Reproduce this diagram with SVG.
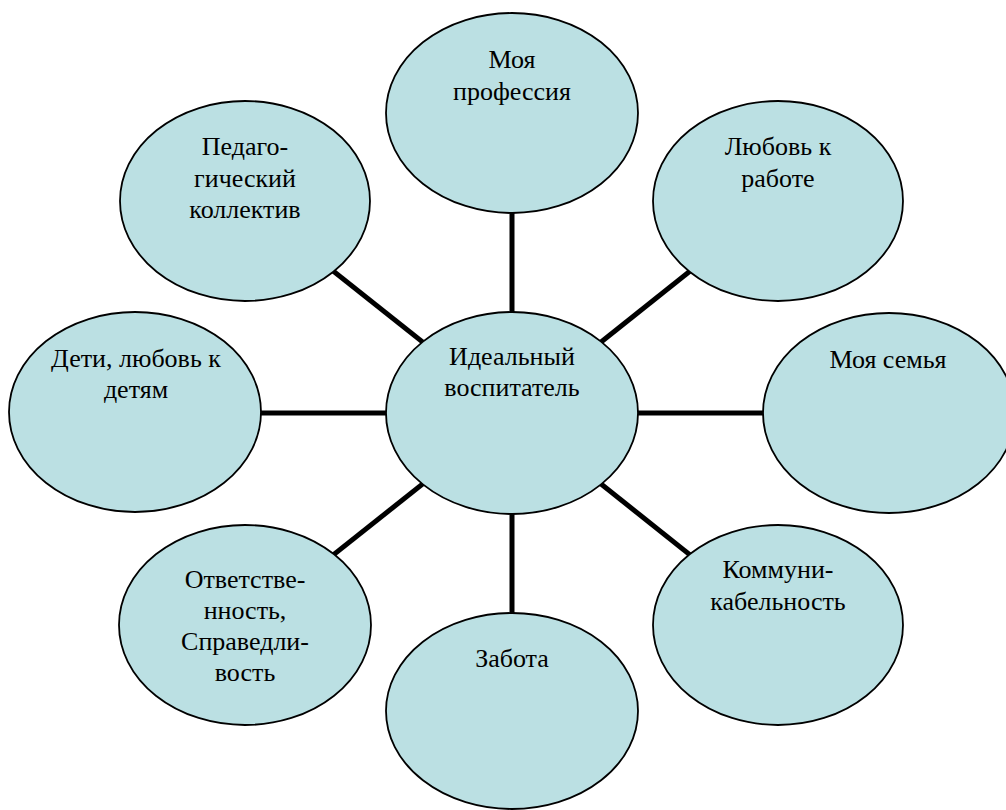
<svg xmlns="http://www.w3.org/2000/svg" width="1006" height="810" viewBox="0 0 1006 810">
<style>
.node ellipse{fill:#BBE0E3;stroke:#000;stroke-width:1.8}
.conn line{stroke:#000;stroke-width:5}
.node text{font-size:26px;fill:#000;text-anchor:middle}
</style>
<rect width="1006" height="810" fill="#fff"/>
<g id="connectors" class="conn">
<line x1="512" y1="413" x2="512" y2="113"/>
<line x1="512" y1="413" x2="512" y2="711"/>
<line x1="512" y1="413" x2="135" y2="413"/>
<line x1="512" y1="413" x2="889" y2="413"/>
<line x1="512" y1="413" x2="245" y2="201"/>
<line x1="512" y1="413" x2="778" y2="201"/>
<line x1="512" y1="413" x2="245" y2="625"/>
<line x1="512" y1="413" x2="778" y2="625"/>
</g>
<g id="n-profession" class="node" font-family="Liberation Serif, serif"><ellipse cx="512" cy="113" rx="126" ry="100"/><text x="512" y="68">Моя</text><text x="512" y="100">профессия</text></g>
<g id="n-work" class="node" font-family="Liberation Serif, serif"><ellipse cx="778" cy="201" rx="125" ry="100"/><text x="778" y="155">Любовь к</text><text x="778" y="187">работе</text></g>
<g id="n-family" class="node" font-family="Liberation Serif, serif"><ellipse cx="889" cy="413" rx="126" ry="100"/><text x="888" y="368">Моя семья</text></g>
<g id="n-comm" class="node" font-family="Liberation Serif, serif"><ellipse cx="778" cy="625" rx="125" ry="100"/><text x="778" y="578">Коммуни-</text><text x="778" y="610">кабельность</text></g>
<g id="n-care" class="node" font-family="Liberation Serif, serif"><ellipse cx="512" cy="711" rx="126" ry="98"/><text x="512" y="667">Забота</text></g>
<g id="n-resp" class="node" font-family="Liberation Serif, serif"><ellipse cx="245" cy="625" rx="126" ry="100"/><text x="245" y="588">Ответстве-</text><text x="245" y="619">нность,</text><text x="245" y="650">Справедли-</text><text x="245" y="681">вость</text></g>
<g id="n-children" class="node" font-family="Liberation Serif, serif"><ellipse cx="135" cy="412" rx="126" ry="100"/><text x="136" y="367">Дети, любовь к</text><text x="136" y="398">детям</text></g>
<g id="n-collective" class="node" font-family="Liberation Serif, serif"><ellipse cx="245" cy="201" rx="125" ry="100"/><text x="245" y="155">Педаго-</text><text x="245" y="187">гический</text><text x="245" y="218">коллектив</text></g>
<g id="n-center" class="node" font-family="Liberation Serif, serif"><ellipse cx="512" cy="413" rx="126" ry="101"/><text x="512" y="365">Идеальный</text><text x="512" y="396">воспитатель</text></g>
</svg>
